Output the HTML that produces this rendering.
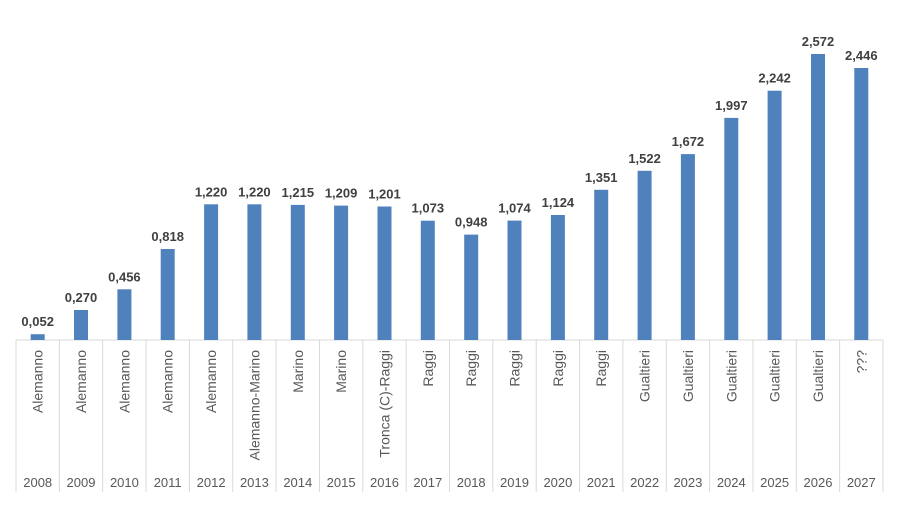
<!DOCTYPE html><html><head><style>body{margin:0;background:#fff}</style></head><body>
<svg width="900" height="500" xmlns="http://www.w3.org/2000/svg" font-family="Liberation Sans, sans-serif">
<path d="M16 340H883M16 340V492M59.35 340V492M102.7 340V492M146.05 340V492M189.4 340V492M232.75 340V492M276.1 340V492M319.45 340V492M362.8 340V492M406.15 340V492M449.5 340V492M492.85 340V492M536.2 340V492M579.55 340V492M622.9 340V492M666.25 340V492M709.6 340V492M752.95 340V492M796.3 340V492M839.65 340V492M883 340V492" stroke="#d9d9d9" fill="none"/>
<g fill="#4f81bd">
<rect x="30.7" y="334.2" width="14" height="5.8"/>
<rect x="74" y="310" width="14" height="30"/>
<rect x="117.4" y="289.3" width="14" height="50.7"/>
<rect x="160.7" y="249" width="14" height="91"/>
<rect x="204.1" y="204.3" width="14" height="135.7"/>
<rect x="247.4" y="204.3" width="14" height="135.7"/>
<rect x="290.8" y="204.9" width="14" height="135.1"/>
<rect x="334.1" y="205.6" width="14" height="134.4"/>
<rect x="377.5" y="206.5" width="14" height="133.5"/>
<rect x="420.8" y="220.7" width="14" height="119.3"/>
<rect x="464.2" y="234.6" width="14" height="105.4"/>
<rect x="507.5" y="220.6" width="14" height="119.4"/>
<rect x="550.9" y="215" width="14" height="125"/>
<rect x="594.2" y="189.8" width="14" height="150.2"/>
<rect x="637.6" y="170.8" width="14" height="169.2"/>
<rect x="680.9" y="154.1" width="14" height="185.9"/>
<rect x="724.3" y="117.9" width="14" height="222.1"/>
<rect x="767.6" y="90.7" width="14" height="249.3"/>
<rect x="811" y="54" width="14" height="286"/>
<rect x="854.3" y="68" width="14" height="272"/>
</g>
<g font-size="13" font-weight="bold" fill="#404040" text-anchor="middle">
<text x="37.7" y="326.2">0,052</text>
<text x="81" y="302">0,270</text>
<text x="124.4" y="281.3">0,456</text>
<text x="167.7" y="241">0,818</text>
<text x="211.1" y="196.3">1,220</text>
<text x="254.4" y="196.3">1,220</text>
<text x="297.8" y="196.9">1,215</text>
<text x="341.1" y="197.6">1,209</text>
<text x="384.5" y="198.5">1,201</text>
<text x="427.8" y="212.7">1,073</text>
<text x="471.2" y="226.6">0,948</text>
<text x="514.5" y="212.6">1,074</text>
<text x="557.9" y="207">1,124</text>
<text x="601.2" y="181.8">1,351</text>
<text x="644.6" y="162.8">1,522</text>
<text x="687.9" y="146.1">1,672</text>
<text x="731.3" y="109.9">1,997</text>
<text x="774.6" y="82.7">2,242</text>
<text x="818" y="46">2,572</text>
<text x="861.3" y="60">2,446</text>
</g>
<g font-size="14" fill="#595959" text-anchor="end">
<text transform="translate(42.7,350) rotate(-90)">Alemanno</text>
<text transform="translate(86,350) rotate(-90)">Alemanno</text>
<text transform="translate(129.4,350) rotate(-90)">Alemanno</text>
<text transform="translate(172.7,350) rotate(-90)">Alemanno</text>
<text transform="translate(216.1,350) rotate(-90)">Alemanno</text>
<text transform="translate(259.4,350) rotate(-90)">Alemanno-Marino</text>
<text transform="translate(302.8,350) rotate(-90)">Marino</text>
<text transform="translate(346.1,350) rotate(-90)">Marino</text>
<text transform="translate(389.5,350) rotate(-90)">Tronca (C)-Raggi</text>
<text transform="translate(432.8,350) rotate(-90)">Raggi</text>
<text transform="translate(476.2,350) rotate(-90)">Raggi</text>
<text transform="translate(519.5,350) rotate(-90)">Raggi</text>
<text transform="translate(562.9,350) rotate(-90)">Raggi</text>
<text transform="translate(606.2,350) rotate(-90)">Raggi</text>
<text transform="translate(649.6,350) rotate(-90)">Gualtieri</text>
<text transform="translate(692.9,350) rotate(-90)">Gualtieri</text>
<text transform="translate(736.3,350) rotate(-90)">Gualtieri</text>
<text transform="translate(779.6,350) rotate(-90)">Gualtieri</text>
<text transform="translate(823,350) rotate(-90)">Gualtieri</text>
<text transform="translate(866.3,350) rotate(-90)">???</text>
</g>
<g font-size="13" fill="#595959" text-anchor="middle">
<text x="37.7" y="487">2008</text><text x="81" y="487">2009</text><text x="124.4" y="487">2010</text><text x="167.7" y="487">2011</text><text x="211.1" y="487">2012</text><text x="254.4" y="487">2013</text><text x="297.8" y="487">2014</text><text x="341.1" y="487">2015</text><text x="384.5" y="487">2016</text><text x="427.8" y="487">2017</text><text x="471.2" y="487">2018</text><text x="514.5" y="487">2019</text><text x="557.9" y="487">2020</text><text x="601.2" y="487">2021</text><text x="644.6" y="487">2022</text><text x="687.9" y="487">2023</text><text x="731.3" y="487">2024</text><text x="774.6" y="487">2025</text><text x="818" y="487">2026</text><text x="861.3" y="487">2027</text>
</g>
</svg></body></html>
